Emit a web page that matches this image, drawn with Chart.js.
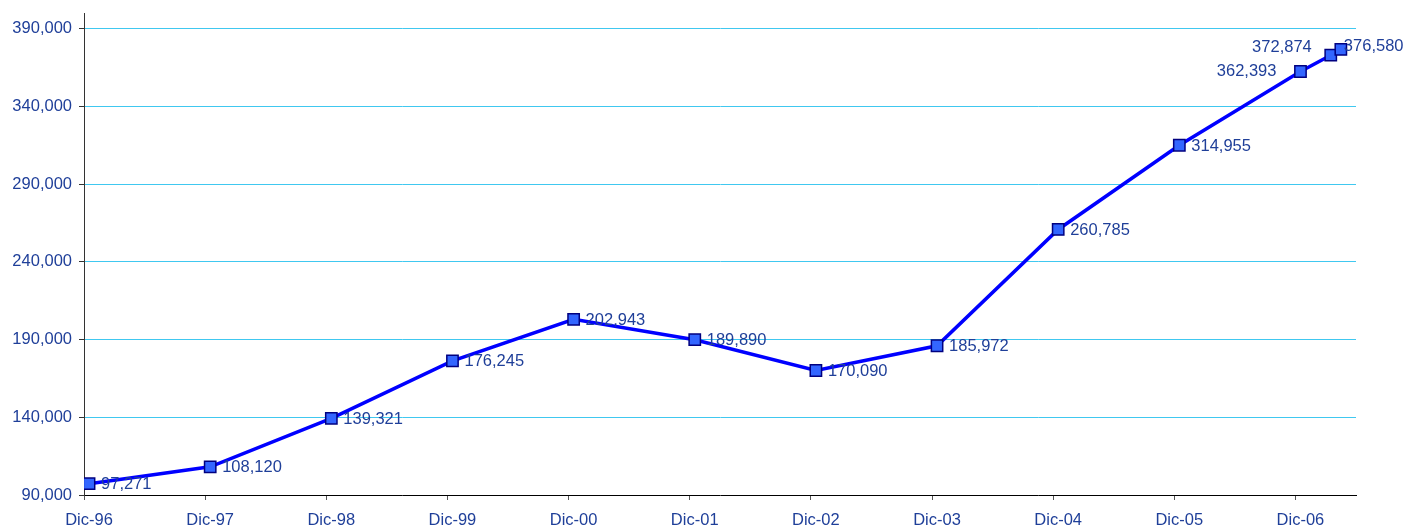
<!DOCTYPE html>
<html lang="es">
<head>
    <meta charset="UTF-8">
    <title>Dic-96 - Dic-06</title>
    <script src="https://cdn.jsdelivr.net/npm/chart.js"></script>
    <style>
        body { margin: 0; background: #fff; }
        #wrap { width: 1406px; height: 527px; position: relative; }
    </style>
</head>
<body>
    <div id="wrap"><canvas id="lineChart"></canvas></div>
    <script>
        // data (x in months since Dic-96)
        const tickLabels = ['Dic-96', 'Dic-97', 'Dic-98', 'Dic-99', 'Dic-00', 'Dic-01', 'Dic-02', 'Dic-03', 'Dic-04', 'Dic-05', 'Dic-06'];
        const tickMonths = [0, 12, 24, 36, 48, 60, 72, 84, 96, 108, 120];
        const pointMonths = [0.5, 12.5, 24.5, 36.5, 48.5, 60.5, 72.5, 84.5, 96.5, 108.5, 120.5, 123.5, 124.5];
        const values = [97271, 108120, 139321, 176245, 202943, 189890, 170090, 185972, 260785, 314955, 362393, 372874, 376580];
        const yTicks = [90000, 140000, 190000, 240000, 290000, 340000, 390000];

        const textBlue = '#1f3f99';
        const font = { family: '"Liberation Sans", Arial, sans-serif', size: 16.5 };

        // where each value label sits relative to its marker
        const labelPlace = {
            10: { dx: -24, dy: 0, align: 'right' },
            11: { dx: -19, dy: -8, align: 'right' },
            12: { dx: 3, dy: -3, align: 'left' }
        };

        const valueLabels = {
            id: 'valueLabels',
            afterDatasetsDraw(chart) {
                const ctx = chart.ctx;
                const meta = chart.getDatasetMeta(0);
                ctx.save();
                ctx.font = font.size + 'px ' + font.family;
                ctx.fillStyle = textBlue;
                ctx.textBaseline = 'middle';
                meta.data.forEach((pt, i) => {
                    const p = labelPlace[i] || { dx: 12, dy: 1, align: 'left' };
                    ctx.textAlign = p.align;
                    ctx.fillText(values[i].toLocaleString('en-US'), pt.x + p.dx, pt.y + p.dy);
                });
                ctx.restore();
            }
        };

        const ctx = document.getElementById('lineChart').getContext('2d');
        new Chart(ctx, {
            type: 'line',
            data: {
                datasets: [{
                    data: pointMonths.map((m, i) => ({ x: m, y: values[i] })),
                    borderColor: '#0000ff',
                    borderWidth: 3.5,
                    pointStyle: 'rect',
                    pointRadius: 8,
                    pointBackgroundColor: '#3366ff',
                    pointBorderColor: '#000080',
                    pointBorderWidth: 1.5,
                    tension: 0
                }]
            },
            options: {
                responsive: true,
                maintainAspectRatio: false,
                animation: false,
                layout: { padding: { top: 13, right: 50, left: 0, bottom: 0 } },
                plugins: {
                    legend: { display: false },
                    tooltip: { enabled: false }
                },
                scales: {
                    x: {
                        type: 'linear',
                        min: 0,
                        max: 126,
                        afterBuildTicks: scale => {
                            scale.ticks = tickMonths.map(v => ({ value: v }));
                        },
                        afterFit: scale => {
                            scale.height = 32;
                            scale.paddingLeft = 0;
                            scale.paddingRight = 0;
                        },
                        grid: {
                            drawOnChartArea: false,
                            drawTicks: true,
                            tickLength: 5,
                            tickColor: '#555'
                        },
                        border: { color: '#000', width: 1 },
                        ticks: {
                            autoSkip: false,
                            maxRotation: 0,
                            padding: 11,
                            labelOffset: 5,
                            color: textBlue,
                            font: font,
                            callback: (v) => tickLabels[tickMonths.indexOf(v)]
                        }
                    },
                    y: {
                        min: 90000,
                        max: 400000,
                        afterBuildTicks: scale => {
                            scale.ticks = yTicks.map(v => ({ value: v }));
                        },
                        afterFit: scale => {
                            scale.width = 84;
                            scale.paddingTop = 0;
                            scale.paddingBottom = 0;
                        },
                        grid: {
                            color: c => (c.tick && c.tick.value === 90000) ? 'rgba(0,0,0,0)' : '#40c8f0',
                            lineWidth: 1,
                            tickLength: 5,
                            tickColor: '#333'
                        },
                        border: { color: '#333', width: 1 },
                        ticks: {
                            padding: 7,
                            color: textBlue,
                            font: font,
                            callback: v => v.toLocaleString('en-US')
                        }
                    }
                }
            },
            plugins: [valueLabels]
        });
    </script>
</body>
</html>
